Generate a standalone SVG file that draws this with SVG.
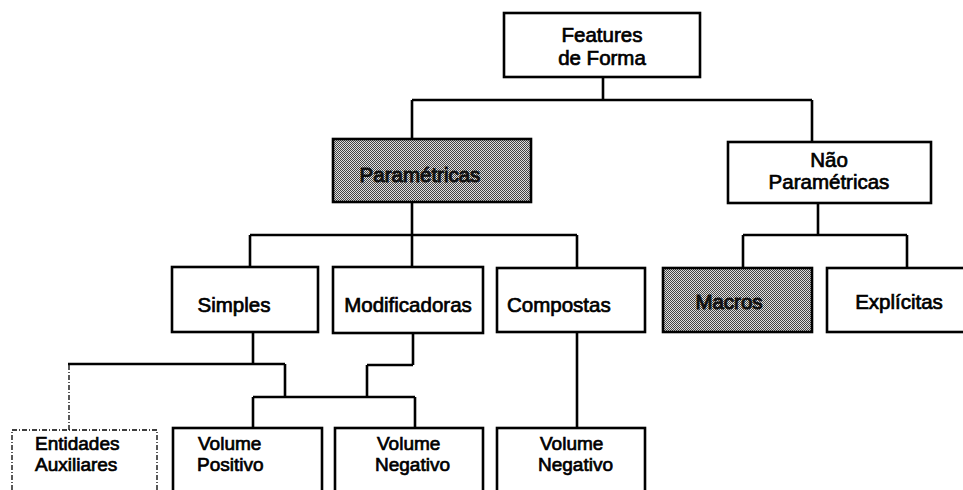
<svg xmlns="http://www.w3.org/2000/svg" width="963" height="490" viewBox="0 0 963 490">
<style>
.box{fill:#fff;stroke:#000;stroke-width:2.6}
.hb{fill:url(#hatch);stroke:#000;stroke-width:2.6}
.dash{fill:#fff;stroke:#000;stroke-width:1.3;stroke-dasharray:5 2 1 2}
.t{font-family:"Liberation Sans",Arial,sans-serif;font-size:20.5px;fill:#000;stroke:#000;stroke-width:0.7}
.s{font-size:19px}
.th{font-family:"Liberation Sans",Arial,sans-serif;font-size:20.5px;fill:#111;stroke:#111;stroke-width:1}
.c{text-anchor:middle}
.ln{fill:none;stroke:#000;stroke-width:2.6}
.dl{fill:none;stroke:#000;stroke-width:1.3;stroke-dasharray:5 2 1 2}
</style>
<defs>
<pattern id="hatch" width="2" height="2" patternUnits="userSpaceOnUse">
<rect width="2" height="2" fill="#e0e0e0"/>
<rect width="1" height="1" fill="#444"/>
<rect x="1" y="1" width="1" height="1" fill="#444"/>
</pattern>
</defs>
<rect width="963" height="490" fill="#fff"/>
<g id="connectors">
<path class="ln" d="M603 77V100M412 100H812M412 100V139M812 100V142"/>
<path class="ln" d="M412 202V235M250 235H577M250 235V267M412 235V267M577 235V268"/>
<path class="ln" d="M818 203V235M743 235H907M743 235V268M907 235V268"/>
<path class="ln" d="M253 332V364M68 364H285M285 364V397M253 397H415M253 397V428M415 397V428"/>
<path class="ln" d="M413 333V365M367 365H413M367 365V397"/>
<path class="ln" d="M577 332V428"/>
<path class="dl" d="M69 365V430"/>
</g>
<g id="features"><rect class="box" x="504" y="13" width="196" height="64"/><text class="t c" x="602" y="42">Features</text><text class="t c" x="602" y="65">de Forma</text></g>
<g id="parametricas"><rect class="hb" x="333" y="139" width="198" height="63"/><text class="th c" x="420" y="182">Paramétricas</text></g>
<g id="nao-parametricas"><rect class="box" x="728" y="142" width="203" height="61"/><text class="t c" x="829" y="167">Não</text><text class="t c" x="829" y="189">Paramétricas</text></g>
<g id="simples"><rect class="box" x="172" y="267" width="146" height="65"/><text class="t c" x="234" y="312">Simples</text></g>
<g id="modificadoras"><rect class="box" x="333" y="267" width="150" height="66"/><text class="t c" x="408" y="312">Modificadoras</text></g>
<g id="compostas"><rect class="box" x="497" y="268" width="148" height="64"/><text class="t" x="507" y="312">Compostas</text></g>
<g id="macros"><rect class="hb" x="663" y="268" width="149" height="64"/><text class="th c" x="729" y="309">Macros</text></g>
<g id="explicitas"><rect class="box" x="827" y="268" width="140" height="64"/><text class="t c" x="899" y="309">Explícitas</text></g>
<g id="entidades"><rect class="dash" x="12" y="430" width="145" height="70"/><text class="t s" x="35" y="450">Entidades</text><text class="t s" x="35" y="471">Auxiliares</text></g>
<g id="vol-positivo"><rect class="box" x="173" y="428" width="149" height="72"/><text class="t s" x="198" y="450">Volume</text><text class="t s" x="197" y="471">Positivo</text></g>
<g id="vol-negativo-1"><rect class="box" x="335" y="428" width="148" height="72"/><text class="t s" x="377" y="450">Volume</text><text class="t s" x="375" y="471">Negativo</text></g>
<g id="vol-negativo-2"><rect class="box" x="497" y="428" width="148" height="72"/><text class="t s" x="540" y="450">Volume</text><text class="t s" x="538" y="471">Negativo</text></g>
</svg>
